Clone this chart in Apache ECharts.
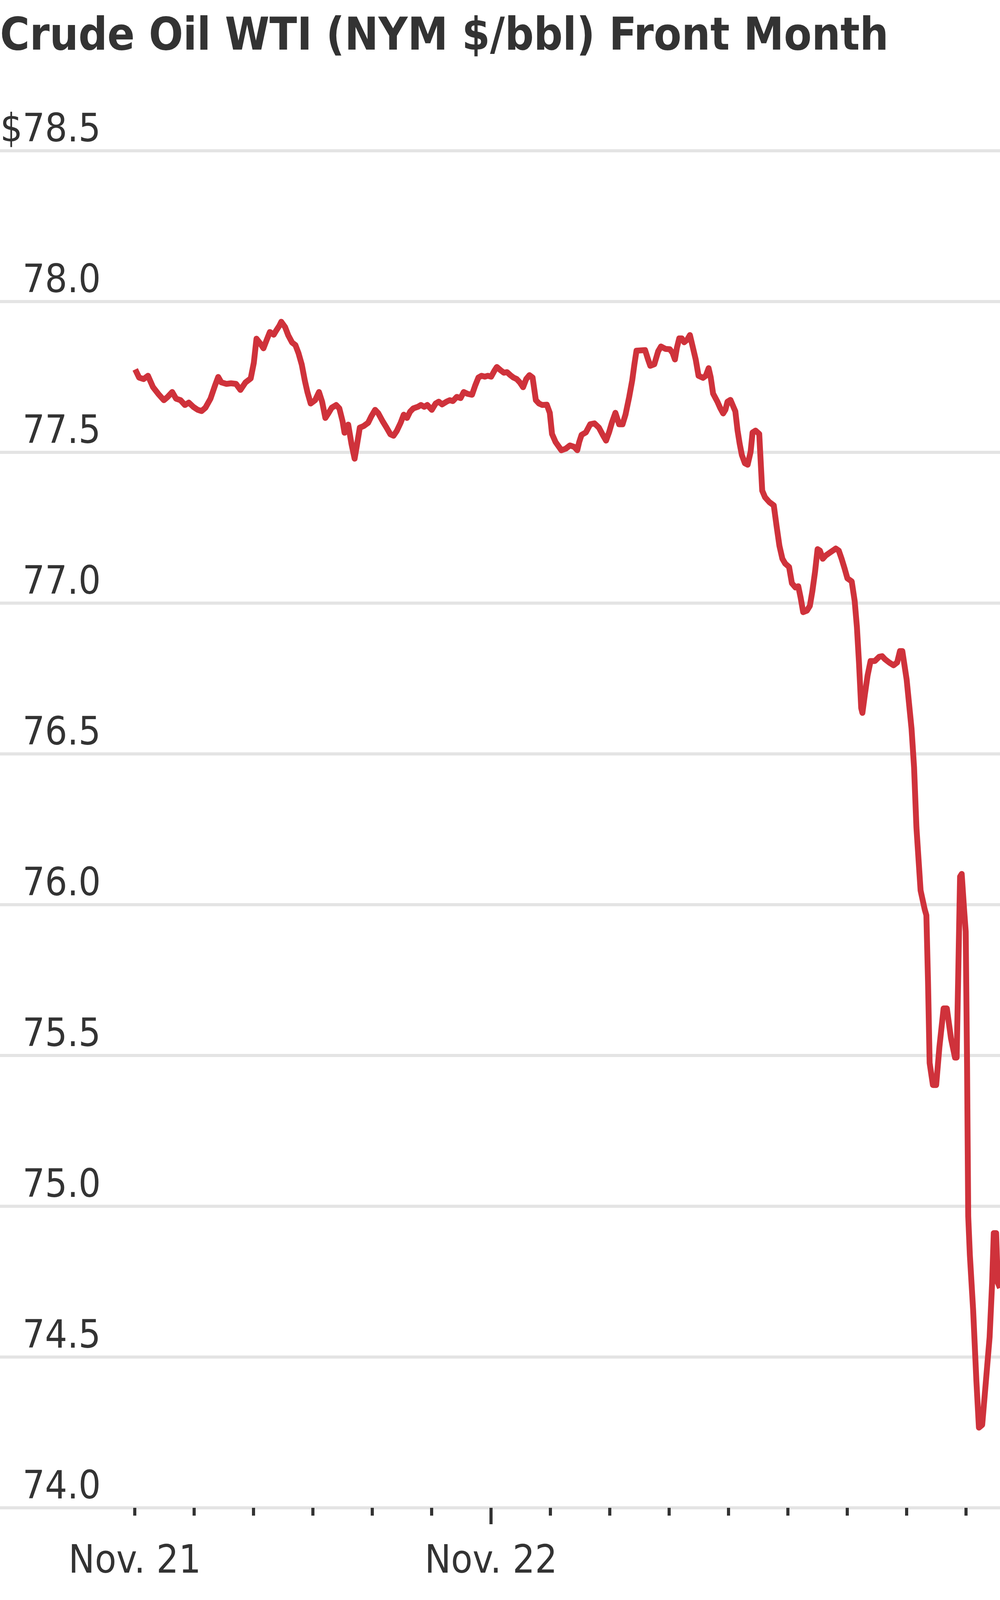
<!DOCTYPE html>
<html>
<head>
<meta charset="utf-8">
<title>Crude Oil WTI</title>
<script src="https://cdn.jsdelivr.net/npm/echarts@6/dist/echarts.min.js"></script>
<style>
  html, body { margin: 0; padding: 0; background: #fff; }
  #main { width: 2560px; height: 4266px; }
</style>
</head>
<body>
<div id="main"></div>
<script>
// hours since Nov. 21 00:00
const hours = [
  0.03, 0.29, 0.59, 0.89, 1.23, 1.58, 1.96, 2.22, 2.52, 2.78, 3.08, 3.38, 3.64, 3.94, 4.24, 4.50, 4.76, 5.10, 5.40, 5.62,
  5.83, 6.18, 6.48, 6.82, 7.12, 7.46, 7.81, 8.02, 8.20, 8.45, 8.67, 8.88, 9.10, 9.36, 9.53, 9.74, 9.87, 10.13, 10.34, 10.60,
  10.82, 11.03, 11.25, 11.46, 11.63, 11.85, 12.15, 12.41, 12.62, 12.84, 13.05, 13.27, 13.57, 13.78, 14.00, 14.13, 14.38, 14.60, 14.81, 14.98,
  15.16, 15.41, 15.72, 15.93, 16.19, 16.40, 16.70, 16.96, 17.22, 17.43, 17.65, 17.91, 18.12, 18.34, 18.55, 18.77, 19.07, 19.28, 19.50, 19.71,
  20.01, 20.27, 20.48, 20.70, 21.00, 21.22, 21.43, 21.69, 21.95, 22.16, 22.42, 22.72, 22.93, 23.15, 23.36, 23.58, 23.79, 24.01, 24.22, 24.39,
  24.65, 24.87, 25.08, 25.30, 25.51, 25.73, 25.94, 26.16, 26.37, 26.59, 26.80, 27.02, 27.23, 27.45,
  27.76, 27.96, 28.11, 28.35, 28.74, 29.03, 29.32, 29.61, 29.81, 29.94, 30.10, 30.39, 30.68, 30.97, 31.27, 31.56, 31.75, 31.95, 32.14, 32.38,
  32.63, 32.86, 33.06, 33.31, 33.51, 33.66, 33.80, 34.09, 34.38, 34.58, 34.73, 35.00, 35.26, 35.45, 35.75, 36.04, 36.23, 36.39, 36.52, 36.68,
  36.85, 37.01, 37.21, 37.40, 37.56, 37.79, 37.98, 38.28, 38.47, 38.66, 38.80, 38.96, 39.25, 39.44, 39.64, 39.79, 39.93, 40.13, 40.32, 40.46,
  40.61, 40.75, 40.90, 41.10, 41.29, 41.49, 41.62, 41.82, 42.07, 42.27, 42.46, 42.75, 43.05, 43.24, 43.43, 43.63, 43.82, 44.08, 44.27, 44.51,
  44.70, 44.86, 45.03, 45.28, 45.48, 45.65, 45.83, 46.00, 46.16, 46.35, 46.55, 46.84, 47.23, 47.43, 47.62, 47.82, 48.01, 48.30, 48.50, 48.65,
  48.79, 48.94, 49.02, 49.18, 49.37, 49.57, 49.86, 50.15, 50.35, 50.54, 50.83, 51.12, 51.36, 51.55, 51.71,
  52.00, 52.33, 52.50, 52.66, 52.94, 53.22, 53.33, 53.44, 53.55, 53.77, 53.99, 54.21, 54.49, 54.71, 54.99, 55.26, 55.37, 55.49, 55.60, 55.71,
  55.87, 55.98, 56.07, 56.15, 56.26, 56.48, 56.70, 56.87, 57.09, 57.31, 57.59, 57.76, 57.87, 58.03, 58.14, 58.29
];

// $/bbl
const prices = [
  77.775, 77.748, 77.743, 77.754, 77.716, 77.694, 77.673, 77.684, 77.700, 77.678, 77.673, 77.657, 77.665, 77.651, 77.641, 77.637, 77.648, 77.678, 77.721, 77.750,
  77.732, 77.727, 77.729, 77.727, 77.707, 77.732, 77.745, 77.797, 77.877, 77.861, 77.845, 77.872, 77.899, 77.890, 77.904, 77.920, 77.933, 77.915, 77.888, 77.864,
  77.856, 77.829, 77.791, 77.737, 77.700, 77.662, 77.673, 77.700, 77.668, 77.614, 77.630, 77.648, 77.657, 77.646, 77.603, 77.565, 77.592, 77.528, 77.479, 77.528,
  77.582, 77.587, 77.598, 77.619, 77.641, 77.630, 77.603, 77.582, 77.560, 77.555, 77.571, 77.598, 77.625, 77.614, 77.635, 77.646, 77.651, 77.657, 77.651, 77.657,
  77.641, 77.662, 77.668, 77.659, 77.668, 77.673, 77.670, 77.684, 77.680, 77.700, 77.694, 77.691, 77.721, 77.748, 77.754, 77.751, 77.754, 77.751, 77.770, 77.783,
  77.772, 77.764, 77.766, 77.756, 77.748, 77.743, 77.732, 77.716, 77.743, 77.756, 77.748, 77.673, 77.662, 77.657,
  77.658, 77.631, 77.561, 77.534, 77.507, 77.512, 77.523, 77.518, 77.507, 77.534, 77.558, 77.566, 77.593, 77.596, 77.582, 77.555, 77.539, 77.566, 77.598, 77.631,
  77.593, 77.593, 77.625, 77.684, 77.738, 77.792, 77.837, 77.838, 77.839, 77.808, 77.787, 77.792, 77.835, 77.851, 77.843, 77.842, 77.830, 77.808, 77.846, 77.878,
  77.878, 77.865, 77.873, 77.889, 77.856, 77.808, 77.754, 77.747, 77.754, 77.779, 77.749, 77.695, 77.668, 77.647, 77.629, 77.641, 77.668, 77.674, 77.652, 77.636,
  77.572, 77.529, 77.491, 77.464, 77.459, 77.502, 77.566, 77.572, 77.561, 77.373, 77.351, 77.335, 77.324, 77.255, 77.190, 77.147, 77.131, 77.120, 77.066, 77.052,
  77.056, 77.018, 76.970, 76.975, 76.991, 77.040, 77.104, 77.179, 77.174, 77.147, 77.158, 77.168, 77.181, 77.174, 77.147, 77.115, 77.082, 77.072, 77.007, 76.921,
  76.803, 76.652, 76.636, 76.695, 76.760, 76.808, 76.808, 76.822, 76.824, 76.814, 76.803, 76.794, 76.803, 76.841, 76.841,
  76.747, 76.584, 76.456, 76.256, 76.047, 75.984, 75.965, 75.747, 75.475, 75.402, 75.402, 75.529, 75.656, 75.656, 75.556, 75.493, 75.493, 75.802, 76.093, 76.102,
  75.984, 75.911, 75.475, 74.966, 74.838, 74.656, 74.420, 74.266, 74.275, 74.402, 74.566, 74.747, 74.911, 74.911, 74.747, 74.729
];

const xTickHours = [0, 4, 8, 12, 16, 20, 24, 28, 32, 36, 40, 44, 48, 52, 56];
const xMajorTickHours = [24];
const xLabelHours = [0, 24];
const xLabelText = ['Nov. 21', 'Nov. 22'];

const FONT = '"DejaVu Sans Condensed", "DejaVu Sans", sans-serif';
const GRID_GRAY = '#e4e4e4';

var myChart = echarts.init(document.getElementById('main'));

myChart.setOption({
  animation: false,
  backgroundColor: '#fff',
  title: [
    {
      text: 'Crude Oil WTI (NYM $/bbl) Front Month',
      left: 0,
      top: 40,
      padding: 0,
      textStyle: { fontFamily: FONT, fontSize: 115, fontWeight: 'bold', color: '#333' }
    },
    {
      text: 'Source: FactSet',
      left: 0,
      top: 4160,
      padding: 0,
      textStyle: { fontFamily: FONT, fontSize: 100, fontWeight: 'normal', color: '#666' }
    }
  ],
  grid: { left: 0, right: 0, top: 386, bottom: 406, outerBoundsMode: 'none' },
  xAxis: [
    {
      type: 'value',
      min: -9.08,
      max: 58.29,
      axisLine: { show: true, lineStyle: { color: GRID_GRAY, width: 8 } },
      axisTick: {
        show: true,
        customValues: xTickHours,
        length: 20,
        lineStyle: { color: '#333', width: 8 }
      },
      axisLabel: {
        customValues: xLabelHours,
        formatter: function (v) {
          var i = xLabelHours.indexOf(v);
          return i >= 0 ? xLabelText[i] : '';
        },
        margin: 90,
        fontFamily: FONT,
        fontSize: 100,
        color: '#333'
      },
      splitLine: { show: false }
    },
    {
      type: 'value',
      min: -9.08,
      max: 58.29,
      position: 'bottom',
      axisLine: { show: false },
      axisTick: {
        show: true,
        customValues: xMajorTickHours,
        length: 42,
        lineStyle: { color: '#333', width: 8 }
      },
      axisLabel: { show: false },
      splitLine: { show: false }
    }
  ],
  yAxis: {
    type: 'value',
    min: 74,
    max: 78.5,
    interval: 0.5,
    axisLine: { show: false },
    axisTick: { show: false },
    splitLine: { lineStyle: { color: GRID_GRAY, width: 8 } },
    axisLabel: {
      inside: true,
      align: 'right',
      verticalAlign: 'bottom',
      margin: 258,
      fontFamily: FONT,
      fontSize: 100,
      color: '#333',
      formatter: function (v) {
        return v === 78.5 ? '$' + v.toFixed(1) : v.toFixed(1);
      }
    }
  },
  series: [
    {
      name: 'WTI',
      type: 'line',
      xAxisIndex: 0,
      showSymbol: false,
      data: hours.map(function (h, i) { return [h, prices[i]]; }),
      lineStyle: { color: '#cf323b', width: 15, join: 'round' },
      z: 5
    }
  ]
});
</script>
</body>
</html>
